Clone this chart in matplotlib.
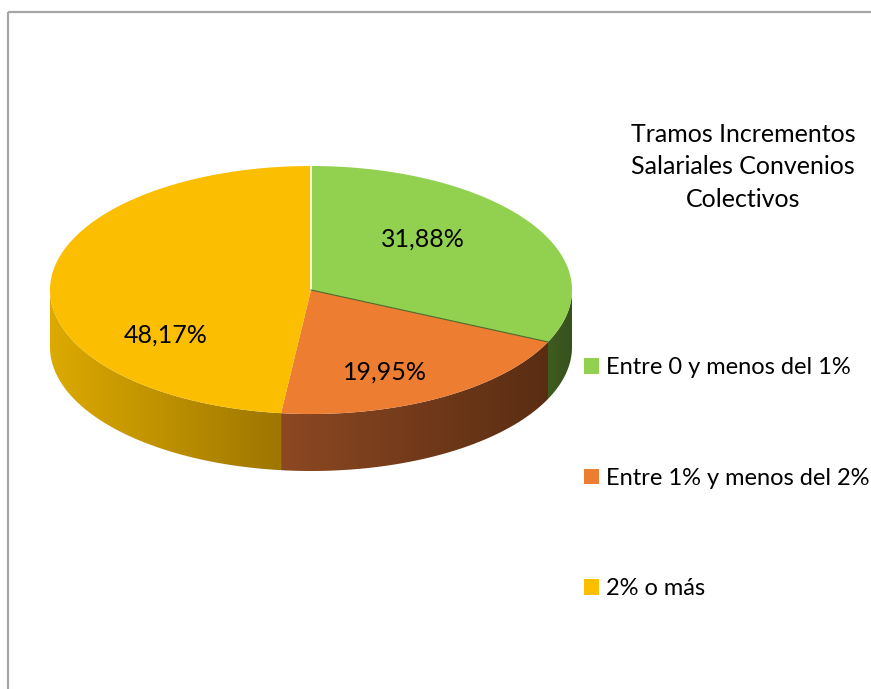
import numpy as np
import matplotlib
matplotlib.use("Agg")
import matplotlib.pyplot as plt
from matplotlib.patches import Polygon, Patch, Rectangle
from matplotlib.colors import LinearSegmentedColormap

# ---- data ----
categories = ["Entre 0 y menos del 1%", "Entre 1% y menos del 2%", "2% o más"]
values = [31.88, 19.95, 48.17]
value_labels = ["31,88%", "19,95%", "48,17%"]
title = "Tramos Incrementos\nSalariales Convenios\nColectivos"

# ---- style / layout ----
top_colors = ["#92d050", "#ed7d31", "#fbbe00"]
side_grad = [("#3e5c20", "#37501c"), ("#8c4822", "#5a2d13"), ("#dcaa00", "#9e7600")]
label_pos = [(423, 239), (385, 372), (166, 335)]
cx, cy, rx, ry, depth = 311, 290, 261, 124, 57

plt.rcParams["font.family"] = ["Lato", "DejaVu Sans"]

W, H = 871, 689
fig = plt.figure(figsize=(W / 100, H / 100), dpi=100)
ax = fig.add_axes([0, 0, 1, 1])
ax.set_xlim(0, W)
ax.set_ylim(H, 0)
ax.axis("off")

# frame
ax.add_patch(Rectangle((8, 11.5), W + 20, H + 20, fill=False, edgecolor="#a6a6a6", lw=1.6))

total = sum(values)
fr = np.array(values) / total
cum = np.concatenate([[0], np.cumsum(fr)])
# angles (degrees), start at 12 o'clock, clockwise
t_start = 90 - 360 * cum[:-1]
t_end = 90 - 360 * cum[1:]


def pt(t, dz=0.0):
    r = np.radians(t)
    return cx + rx * np.cos(r), cy - ry * np.sin(r) + dz


# ---- sides (front half: angles between -180 and 0) ----
for i in range(len(values)):
    a, b = t_start[i], t_end[i]  # a > b
    hi = min(a, 0.0)
    lo = max(b, -180.0)
    if hi <= lo:
        continue
    ts = np.linspace(hi, lo, 200)
    xs, ys = pt(ts)
    xb, yb = pt(ts[::-1], depth)
    poly = np.column_stack([np.concatenate([xs, xb]), np.concatenate([ys, yb])])
    patch = Polygon(poly, closed=True, facecolor="none", edgecolor="none")
    ax.add_patch(patch)
    x0, x1 = poly[:, 0].min(), poly[:, 0].max()
    y0, y1 = poly[:, 1].min(), poly[:, 1].max()
    cmap = LinearSegmentedColormap.from_list("g%d" % i, list(side_grad[i]))
    grad = np.linspace(0, 1, 256).reshape(1, -1)
    im = ax.imshow(grad, cmap=cmap, extent=[x0, x1, y1, y0], aspect="auto",
                   interpolation="bicubic", zorder=1)
    im.set_clip_path(patch)

ax.set_xlim(0, W)
ax.set_ylim(H, 0)

# ---- top wedges ----
for i in range(len(values)):
    ts = np.linspace(t_start[i], t_end[i], 300)
    xs, ys = pt(ts)
    poly = np.column_stack([np.concatenate([[cx], xs]), np.concatenate([[cy], ys])])
    ax.add_patch(Polygon(poly, closed=True, facecolor=top_colors[i],
                         edgecolor="none", zorder=2))

# thin separators
x_a, y_a = pt(t_start[0])
ax.plot([cx, x_a], [cy, y_a], color="white", lw=1.2, zorder=3)
x_b, y_b = pt(t_end[0])
ax.plot([cx, x_b], [cy, y_b], color="#4a6a2a", lw=0.8, zorder=3)

# ---- value labels ----
for (lx, ly), txt in zip(label_pos, value_labels):
    ax.text(lx, ly, txt, ha="center", va="center", fontsize=18, color="black", zorder=4)

# ---- title ----
ax.text(743, 167, title, ha="center", va="center", fontsize=18, linespacing=1.5, color="black")

# ---- legend ----
handles = [Patch(facecolor=c, edgecolor="none") for c in top_colors]
leg = ax.legend(handles, categories, loc="upper left",
                bbox_to_anchor=(584 / W, 1 - 357 / H), bbox_transform=fig.transFigure,
                frameon=False, fontsize=17, handlelength=0.64, handleheight=0.64,
                handletextpad=0.3, labelspacing=3.8, borderpad=0, borderaxespad=0)

fig.savefig("out.png", dpi=100, facecolor="white")
